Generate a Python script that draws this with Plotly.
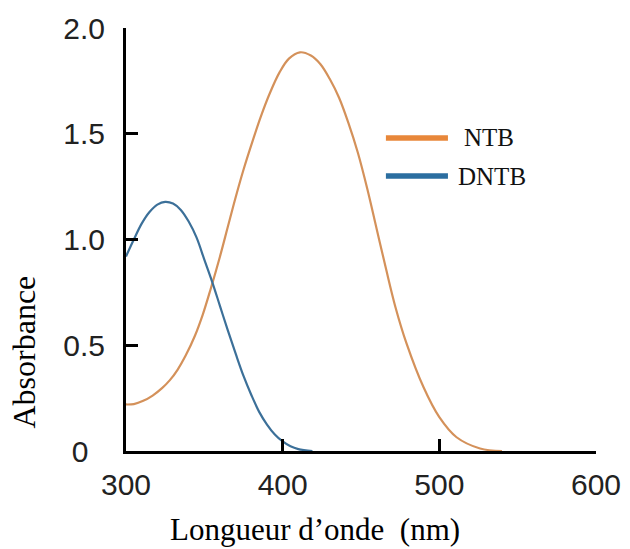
import plotly.graph_objects as go

# Data
ntb_wl = [300, 305, 311, 317, 323, 328, 333, 338, 344, 349, 354, 360, 365, 370, 375, 381, 386,
          392, 398, 404, 411, 418, 424, 430, 436, 442, 448, 454, 460, 466, 472, 479, 490, 500,
          511, 526, 540]
ntb_abs = [0.22, 0.222, 0.237, 0.262, 0.297, 0.335, 0.385, 0.45, 0.545, 0.645, 0.765, 0.92,
           1.06, 1.20, 1.33, 1.47, 1.58, 1.695, 1.79, 1.855, 1.885, 1.87, 1.83, 1.76, 1.67, 1.55,
           1.41, 1.24, 1.05, 0.86, 0.68, 0.51, 0.30, 0.16, 0.065, 0.012, 0.0]

dntb_wl = [300, 305, 310, 315, 320, 325, 330, 335, 340, 345, 350, 355, 360, 365, 370, 375, 380,
           385, 390, 395, 400, 405, 410, 419]
dntb_abs = [0.92, 1.0, 1.075, 1.13, 1.165, 1.178, 1.17, 1.14, 1.085, 1.01, 0.905, 0.80, 0.685,
            0.57, 0.46, 0.355, 0.265, 0.185, 0.125, 0.078, 0.045, 0.022, 0.009, 0.0]

x_ticks = [300, 400, 500, 600]
y_ticks = [0, 0.5, 1.0, 1.5, 2.0]
y_tick_text = ["0\u00a0\u00a0", "0.5", "1.0", "1.5", "2.0"]

series_names = ["NTB", "DNTB"]
curve_colors = ["#D4915A", "#3C7099"]
legend_colors = ["#E8873A", "#2B6EA0"]

tick_font = dict(family="Liberation Sans, Arial, sans-serif", size=30, color="#222222")
serif = "Liberation Serif, Times New Roman, serif"

fig = go.Figure()
fig.add_trace(go.Scatter(x=ntb_wl, y=ntb_abs, mode="lines", name=series_names[0],
                         line=dict(color=curve_colors[0], width=2.2, shape="spline", smoothing=1.0),
                         showlegend=False))
fig.add_trace(go.Scatter(x=dntb_wl, y=dntb_abs, mode="lines", name=series_names[1],
                         line=dict(color=curve_colors[1], width=2.2, shape="spline", smoothing=1.0),
                         showlegend=False))

axis_common = dict(showline=True, linecolor="black", linewidth=3, ticks="inside",
                   ticklen=12, tickwidth=2.5, tickcolor="black", showgrid=False,
                   zeroline=False, tickfont=tick_font, automargin=False)

fig.update_xaxes(range=[300, 600], tickvals=x_ticks, ticklabelstandoff=5, **axis_common)
fig.update_yaxes(range=[0, 2.0], tickvals=y_ticks, ticktext=y_tick_text,
                 ticklabelstandoff=12, **axis_common)

# Legend drawn manually (line swatches + labels)
legend_y = [0.740, 0.650]
legend_text_x = [0.715, 0.702]
for i, name in enumerate(series_names):
    fig.add_shape(type="line", xref="paper", yref="paper", x0=0.553, x1=0.685,
                  y0=legend_y[i], y1=legend_y[i], line=dict(color=legend_colors[i], width=5.5))
    fig.add_annotation(xref="paper", yref="paper", x=legend_text_x[i], y=legend_y[i],
                       xanchor="left", yanchor="middle", showarrow=False, text=name,
                       font=dict(family=serif, size=25, color="#111111"))

# Axis titles
fig.add_annotation(xref="paper", yref="paper", x=(315 - 126) / 470, y=-0.1856,
                   xanchor="center", yanchor="middle", showarrow=False,
                   text="Longueur d\u2019onde \u00a0(nm)",
                   font=dict(family=serif, size=31, color="black"))
fig.add_annotation(xref="paper", yref="paper", x=(24.5 - 126) / 470, y=0.234,
                   xanchor="center", yanchor="middle", showarrow=False, textangle=-90,
                   text="Absorbance", font=dict(family=serif, size=32, color="black"))

fig.update_layout(width=630, height=549, margin=dict(l=126, r=34, t=28, b=98),
                  paper_bgcolor="white", plot_bgcolor="white")

fig.write_html("out.html", config={"displayModeBar": False},
               post_script="document.body.style.margin='0';")
